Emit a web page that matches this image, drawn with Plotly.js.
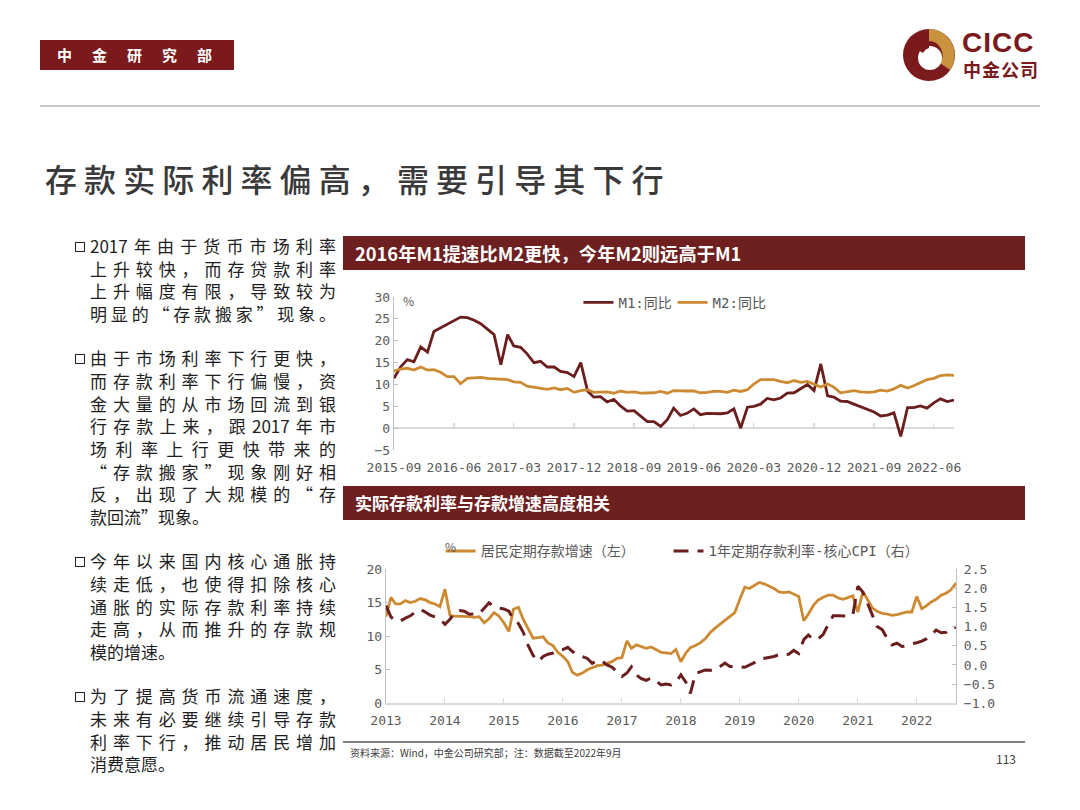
<!DOCTYPE html>
<html>
<head>
<meta charset="utf-8">
<script src="https://cdn.plot.ly/plotly-3.0.1.min.js"></script>
<style>
  html, body { margin:0; padding:0; background:#fff; }
  #slide { position:relative; width:1080px; height:810px; overflow:hidden; font-family:"Noto Sans CJK SC","Noto Sans",sans-serif; }
  #plot { position:absolute; left:0; top:0; width:1080px; height:810px; z-index:1; }
  .abs { position:absolute; z-index:2; }
  .tag { left:40px; top:40px; width:194px; height:30px; background:#7a1a1c; color:#fff; font-weight:bold; font-size:15px; letter-spacing:20px; line-height:30px; padding-left:17px; box-sizing:border-box; white-space:nowrap; }
  .topline { left:40px; top:105px; width:1000px; height:1.5px; background:#c8c8c8; }
  .title { left:45px; top:156px; font-size:32px; font-weight:500; letter-spacing:7.1px; color:#3a3a3a; white-space:nowrap; line-height:44px; }
  .bar { left:343px; width:682px; height:34px; background:#6e1f1f; color:#fff; font-weight:bold; line-height:34px; padding-left:12px; box-sizing:border-box; white-space:nowrap; }
  .botline { left:343px; top:741px; width:682px; height:2px; background:#808080; }
  .src { left:350px; top:745px; font-size:10px; color:#404040; white-space:nowrap; }
  .page { left:996px; top:750px; font-size:12px; color:#404040; }
  .txt { left:74px; top:235px; width:262px; font-size:17px; color:#1e1e1e; }
  .para { position:relative; margin-bottom:21.5px; padding-left:16px; }
  .ln { height:22.7px; line-height:22.7px; white-space:nowrap; }
  .full { text-align:justify; text-align-last:justify; white-space:normal; }
  .box { position:absolute; left:1px; top:7px; width:8px; height:8px; border:1.4px solid #222; }
  .cicc { left:962px; top:30px; height:26px; line-height:26px; font-family:"Liberation Sans",Arial,sans-serif; font-weight:bold; font-size:28px; color:#7a1a1c; letter-spacing:1px; }
  .cicc2 { left:963px; top:60px; height:18px; line-height:18px; font-weight:bold; font-size:18px; color:#7a1a1c; letter-spacing:1px; }
</style>
</head>
<body>
<div id="slide">
  <div id="plot"></div>

  <div class="abs tag">中金研究部</div>
  <svg class="abs" style="left:900px;top:26px" width="60" height="60" viewBox="0 0 60 60">
    <circle cx="29" cy="29" r="26" fill="#7a1a1c"/>
    <path d="M29 3 A26 26 0 0 1 50 44 L40 37 A14 14 0 0 0 29 15 Z" fill="#c9923f"/>
    <circle cx="30" cy="32" r="12" fill="#fff"/>
    <path d="M29 15 L29 22 A10 10 0 0 0 23 27 L18 24 A14 14 0 0 1 29 15 Z" fill="#7a1a1c"/>
  </svg>
  <div class="abs cicc">CICC</div>
  <div class="abs cicc2">中金公司</div>
  <div class="abs topline"></div>

  <div class="abs title">存款实际利率偏高，需要引导其下行</div>

  <div class="abs txt">
    <div class="para"><span class="box"></span>
      <div class="ln full">2017年由于货币市场利率</div>
      <div class="ln full">上升较快，而存贷款利率</div>
      <div class="ln full">上升幅度有限，导致较为</div>
      <div class="ln full">明显的“存款搬家”现象。</div>
    </div>
    <div class="para"><span class="box"></span>
      <div class="ln full">由于市场利率下行更快，</div>
      <div class="ln full">而存款利率下行偏慢，资</div>
      <div class="ln full">金大量的从市场回流到银</div>
      <div class="ln full">行存款上来，跟2017年市</div>
      <div class="ln full">场利率上行更快带来的</div>
      <div class="ln full">“存款搬家”现象刚好相</div>
      <div class="ln full">反，出现了大规模的“存</div>
      <div class="ln">款回流”现象。</div>
    </div>
    <div class="para"><span class="box"></span>
      <div class="ln full">今年以来国内核心通胀持</div>
      <div class="ln full">续走低，也使得扣除核心</div>
      <div class="ln full">通胀的实际存款利率持续</div>
      <div class="ln full">走高，从而推升的存款规</div>
      <div class="ln">模的增速。</div>
    </div>
    <div class="para"><span class="box"></span>
      <div class="ln full">为了提高货币流通速度，</div>
      <div class="ln full">未来有必要继续引导存款</div>
      <div class="ln full">利率下行，推动居民增加</div>
      <div class="ln">消费意愿。</div>
    </div>
  </div>

  <div class="abs bar" style="top:236px;font-size:18.3px;">2016年M1提速比M2更快，今年M2则远高于M1</div>
  <div class="abs bar" style="top:486px;font-size:17px;">实际存款利率与存款增速高度相关</div>

  <div class="abs botline"></div>
  <div class="abs src">资料来源：Wind，中金公司研究部；注：数据截至2022年9月</div>
  <div class="abs page">113</div>
</div>

<script>
// ---------- Chart 1: M1 / M2 YoY (%), monthly 2015-09 .. 2022-09 ----------
const m1Start = [2015, 9];
const m1Names = ['M1:同比', 'M2:同比'];
const m1Values = [
  11.4, 14.0, 15.7, 15.2,
  18.6, 17.4, 22.1, 22.9, 23.7, 24.6, 25.4, 25.3, 24.7, 23.9, 22.7, 21.4,
  14.5, 21.4, 18.8, 18.5, 17.0, 15.0, 15.3, 14.0, 14.0, 13.0, 12.7, 11.8,
  15.0, 8.5, 7.1, 7.2, 6.0, 6.6, 5.1, 3.9, 4.0, 2.7, 1.5, 1.5,
  0.4, 2.0, 4.6, 2.9, 3.4, 4.4, 3.1, 3.4, 3.4, 3.3, 3.5, 4.4,
  0.0, 4.8, 5.0, 5.5, 6.8, 6.5, 6.9, 8.0, 8.1, 9.1, 10.0, 8.6,
  14.7, 7.4, 7.1, 6.2, 6.1, 5.5, 4.9, 4.2, 3.7, 2.8, 3.0, 3.5,
  -1.9, 4.7, 4.7, 5.1, 4.6, 5.8, 6.7, 6.1, 6.4
];
const m2Values = [
  13.1, 13.5, 13.7, 13.3,
  14.0, 13.3, 13.4, 12.8, 11.8, 11.8, 10.2, 11.4, 11.5, 11.6, 11.4, 11.3,
  11.3, 11.1, 10.6, 10.5, 9.6, 9.4, 9.2, 8.9, 9.2, 8.8, 9.1, 8.2,
  8.6, 8.8, 8.2, 8.3, 8.3, 8.0, 8.5, 8.2, 8.3, 8.0, 8.0, 8.1,
  8.4, 8.0, 8.6, 8.5, 8.5, 8.5, 8.1, 8.2, 8.4, 8.4, 8.2, 8.7,
  8.4, 8.8, 10.1, 11.1, 11.1, 11.1, 10.7, 10.4, 10.9, 10.5, 10.7, 10.1,
  9.4, 10.1, 9.4, 8.1, 8.3, 8.6, 8.3, 8.2, 8.3, 8.7, 8.5, 9.0,
  9.8, 9.2, 9.7, 10.5, 11.1, 11.4, 12.0, 12.2, 12.1
];

// ---------- Chart 2: household time deposit growth (%, left) and
// 1Y deposit rate minus core CPI (%, right), monthly 2013-01 .. 2022-09 ----------
const depStart = [2013, 1];
const depNames = ['居民定期存款增速（左）', '1年定期存款利率-核心CPI（右）'];
const depositGrowth = [
  12.9, 15.8, 14.8, 14.8, 15.3, 15.0, 15.2, 15.6, 15.4, 15.0, 14.8, 14.4,
  17.0, 13.1, 13.0, 13.0, 12.9, 12.9, 12.8, 12.9, 12.0, 12.6, 13.5, 13.0,
  12.0, 10.7, 14.0, 14.3, 12.5, 11.0, 9.7, 9.8, 9.9, 9.0, 8.6, 7.6,
  7.0, 6.2, 4.6, 4.2, 4.5, 5.0, 5.3, 5.6, 5.7, 5.9, 6.2, 6.7,
  6.8, 9.3, 8.2, 8.7, 8.4, 8.2, 8.4, 8.0, 7.6, 7.5, 7.4, 8.0,
  6.2, 7.5, 8.3, 8.6, 9.0, 9.6, 10.5, 11.2, 11.8, 12.4, 13.0, 13.5,
  15.5, 17.3, 17.1, 17.6, 18.0, 17.8, 17.5, 17.1, 16.6, 16.5, 16.6, 16.2,
  15.9, 12.3, 13.3, 14.6, 15.4, 15.8, 16.1, 16.1, 15.7, 15.5, 15.8, 16.0,
  13.6, 16.6, 15.5, 14.2, 13.7, 13.4, 13.3, 13.1, 13.2, 13.4, 13.6, 13.6,
  15.9, 14.1, 14.5, 15.1, 15.5, 16.1, 16.4, 16.9, 17.9
];
const realRate = [
  1.55, 1.25, 1.15, 1.15, 1.22, 1.28, 1.38, 1.45, 1.38, 1.30, 1.25, 1.20,
  1.06, 1.19, 1.36, 1.42, 1.40, 1.32, 1.33, 1.33, 1.48, 1.62, 1.52, 1.48,
  1.46, 1.40, 1.18, 1.08, 0.85, 0.50, 0.25, 0.09, 0.22, 0.28, 0.31, 0.38,
  0.40, 0.46, 0.35, 0.26, 0.22, 0.17, 0.04, 0.12, 0.10, 0.00, -0.06, -0.18,
  -0.30, -0.21, -0.05, -0.26, -0.36, -0.40, -0.34, -0.42, -0.52, -0.50, -0.52, -0.45,
  -0.26, -0.45, -0.74, -0.23, -0.18, -0.13, -0.14, -0.13, -0.04, 0.05, -0.04, -0.04,
  -0.05, -0.06, -0.01, 0.06, 0.15, 0.18, 0.20, 0.22, 0.27, 0.25, 0.28, 0.38,
  0.30, 0.66, 0.78, 0.66, 0.68, 0.80, 1.05, 1.28, 1.28, 1.27, 1.27, 1.30,
  2.05, 1.90, 1.60, 1.30, 1.00, 0.92, 0.70, 0.52, 0.57, 0.48, 0.50, 0.55,
  0.58, 0.62, 0.68, 0.78, 0.91, 0.84, 0.85, 0.97, 0.98
];

function months(start, n) {
  const out = [];
  let y = start[0], m = start[1];
  for (let i = 0; i < n; i++) {
    out.push(y + '-' + String(m).padStart(2, '0') + '-01');
    m++; if (m > 12) { m = 1; y++; }
  }
  return out;
}
const xTop = months(m1Start, m1Values.length);
const xBot = months(depStart, depositGrowth.length);

const DARK = '#6b1e1e', GOLD = '#cc8a32', AX = '#bfbfbf', LIGHT = '#d9d9d9', TXT = '#595959';

const traces = [
  { x: xTop, y: m1Values, name: m1Names[0], type: 'scatter', mode: 'lines',
    line: { color: DARK, width: 2.8 }, xaxis: 'x', yaxis: 'y', legend: 'legend' },
  { x: xTop, y: m2Values, name: m1Names[1], type: 'scatter', mode: 'lines',
    line: { color: GOLD, width: 2.8 }, xaxis: 'x', yaxis: 'y', legend: 'legend4' },
  { x: [], y: [], xaxis: 'x3', yaxis: 'y', showlegend: false, hoverinfo: 'skip' },
  { x: xBot, y: depositGrowth, name: depNames[0], type: 'scatter', mode: 'lines',
    line: { color: GOLD, width: 2.8 }, xaxis: 'x2', yaxis: 'y2', legend: 'legend2' },
  { x: xBot, y: realRate, name: depNames[1], type: 'scatter', mode: 'lines',
    line: { color: DARK, width: 3, dash: '15px,9px' }, xaxis: 'x2', yaxis: 'y4', legend: 'legend3' }
];

const F = 'Noto Sans CJK SC, Noto Sans, sans-serif';
const MONO = 'DejaVu Sans Mono, Noto Sans CJK SC, monospace';
const TF = { size: 13, color: TXT, family: MONO };
const LF = { size: 14, color: TXT, family: MONO };
const topY = [0.4444, 0.6333];
function leg(x, y) {
  return { x: x, y: y, xanchor: 'left', yanchor: 'top', orientation: 'h',
    bgcolor: 'rgba(0,0,0,0)', font: LF, itemwidth: 30 };
}
const layout = {
  width: 1080, height: 810,
  margin: { l: 0, r: 0, t: 0, b: 0 },
  paper_bgcolor: 'rgba(0,0,0,0)', plot_bgcolor: 'rgba(0,0,0,0)',
  font: { family: F, color: TXT, size: 13 },
  showlegend: true,
  xaxis: { domain: [0.3648, 0.8833], anchor: 'y', type: 'date',
    range: ['2015-09-01', '2022-09-01'], tick0: '2015-09-01', dtick: 'M9', tickformat: '%Y-%m',
    showline: false, ticks: '', showgrid: false, zeroline: false, tickfont: TF, ticklabelstandoff: 8 },
  xaxis3: { overlaying: 'x', anchor: 'free', position: topY[0] + (topY[1] - topY[0]) * (5 / 35),
    type: 'date', range: ['2015-09-01', '2022-09-01'], tick0: '2015-09-01', dtick: 'M9',
    showticklabels: false, showline: false, ticks: 'inside', ticklen: 5, tickcolor: LIGHT, tickwidth: 1.2,
    showgrid: false, zeroline: false },
  yaxis: { domain: topY, anchor: 'x', range: [-5, 30], dtick: 5,
    showline: true, linecolor: AX, linewidth: 1.2, ticks: 'inside', ticklen: 4, tickcolor: AX,
    showgrid: false, zeroline: true, zerolinecolor: LIGHT, zerolinewidth: 1.5, tickfont: TF },
  xaxis2: { domain: [0.3574, 0.8852], anchor: 'y2', type: 'date',
    range: ['2013-01-01', '2022-09-01'], tick0: '2013-01-01', dtick: 'M12', tickformat: '%Y',
    showline: true, linecolor: LIGHT, linewidth: 1.5, ticks: 'inside', ticklen: 5, tickcolor: LIGHT,
    showgrid: false, zeroline: false, tickfont: TF, ticklabelstandoff: 5 },
  yaxis2: { domain: [0.1317, 0.2975], anchor: 'x2', range: [0, 20], dtick: 5,
    showline: true, linecolor: AX, linewidth: 1.2, ticks: 'inside', ticklen: 4, tickcolor: AX,
    showgrid: false, zeroline: false, tickfont: TF },
  yaxis4: { overlaying: 'y2', anchor: 'x2', side: 'right', range: [-1, 2.5], dtick: 0.5, tickformat: '.1f',
    showline: true, linecolor: AX, linewidth: 1.2, ticks: 'inside', ticklen: 4, tickcolor: AX,
    showgrid: false, zeroline: false, tickfont: TF, ticklabelstandoff: 4 },
  legend: leg(0.5356, 0.646),
  legend4: leg(0.6228, 0.646),
  legend2: leg(0.408, 0.339),
  legend3: leg(0.619, 0.339),
  annotations: [
    { text: '%', xref: 'paper', yref: 'paper', x: 0.3778, y: 0.6296, showarrow: false,
      font: { size: 12, color: TXT } },
    { text: '%', xref: 'paper', yref: 'paper', x: 0.4167, y: 0.312, showarrow: false,
      font: { size: 12, color: TXT } }
  ]
};

Plotly.newPlot('plot', traces, layout, { displayModeBar: false, staticPlot: true });
</script>
</body>
</html>
